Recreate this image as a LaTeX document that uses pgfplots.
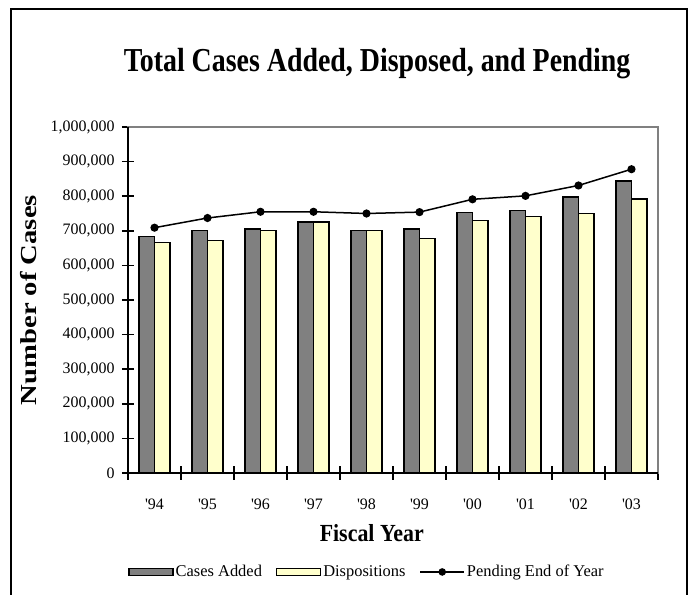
\documentclass[border=0pt]{standalone}
\usepackage{fontspec}
\setmainfont{Liberation Serif}
\usepackage{pgfplots}
\pgfplotsset{compat=1.18}
\usepackage{graphicx}

\definecolor{added}{HTML}{808080}
\definecolor{dispo}{HTML}{FFFFCC}

\newcommand{\q}{\textquotesingle}

\pgfplotsset{
  barlegend/.style={legend image code/.code={\draw[##1] (0bp,-3.5bp) rectangle (44bp,3.5bp);}},
  linelegend/.style={legend image code/.code={
    \draw[##1, mark=none] (0bp,0bp) -- (44bp,0bp);
    \fill[black] (22bp,0bp) circle (3bp);}},
}

\begin{document}
\begin{tikzpicture}
\useasboundingbox (0,0) rectangle (696bp,595bp);
% outer frame (open at the bottom)
\draw[line width=2bp] (11bp,0) -- (11bp,586bp) -- (687bp,586bp) -- (687bp,0);

\begin{axis}[
  at={(128bp,122bp)}, anchor=south west,
  scale only axis,
  width=530bp, height=346bp,
  xmin=-0.5, xmax=9.5,
  ymin=0, ymax=1000000,
  xtick={0,...,9},
  xticklabels={\q94,\q95,\q96,\q97,\q98,\q99,\q00,\q01,\q02,\q03},
  minor xtick={-0.5,0.5,...,9.5},
  ytick={0,100000,...,1000000},
  xtick pos=bottom, ytick pos=left,
  tick align=center,
  major tick length=12bp, minor tick length=13bp,
  major x tick style={draw=none},
  tick style={black, line width=1.5bp},
  scaled y ticks=false,
  /pgf/number format/.cd, fixed, 1000 sep={,}, assume math mode=true,
  /pgfplots/.cd,
  tick label style={font=\fontsize{16}{18}\selectfont},
  yticklabel style={anchor=east, xshift=-4bp},
  xticklabel style={anchor=base, yshift=-30bp},
  axis line style={draw=added, line width=1.5bp},
  title={\scalebox{1}[1.2]{Total Cases Added, Disposed, and Pending}},
  title style={font=\bfseries\fontsize{28}{32}\selectfont, at={(axis description cs:0.47,1.142)}, anchor=base},
  xlabel={\scalebox{1}[1.12]{Fiscal Year}},
  xlabel style={font=\bfseries\fontsize{22}{26}\selectfont, at={(axis description cs:0.46,-0.1986)}, anchor=base},
  ylabel={\scalebox{1.25}[1]{Number of Cases}},
  ylabel style={font=\bfseries\fontsize{23}{26}\selectfont, at={(axis description cs:-0.187,0.5)}, anchor=center},
  legend columns=3,
  legend style={draw=none, fill=none, font=\fontsize{16.5}{18}\selectfont,
    at={(axis description cs:0.451,-0.286)}, anchor=center,
    /tikz/every even column/.append style={column sep=12bp},
    inner sep=0pt},
  after end axis/.code={
    \draw[black, line width=2bp] (rel axis cs:0,1) -- (rel axis cs:0,0) -- (rel axis cs:1,0);
  },
]

% Cases Added
\addplot[ybar, bar width=15.5bp, bar shift=-7.75bp, fill=added, draw=black, line width=1.3bp, barlegend]
  coordinates {
  (0,683000) (1,700000) (2,705000) (3,725000) (4,700000)
  (5,705000) (6,752000) (7,758000) (8,798000) (9,844000)
};
\addlegendentry{Cases Added}

% Dispositions
\addplot[ybar, bar width=15.5bp, bar shift=7.75bp, fill=dispo, draw=black, line width=1.3bp, barlegend]
  coordinates {
  (0,666000) (1,671000) (2,700000) (3,725000) (4,700000)
  (5,678000) (6,729000) (7,741000) (8,751000) (9,792000)
};
\addlegendentry{Dispositions}

% Pending End of Year
\addplot[black, line width=1.5bp, mark=*, mark size=3.3bp, linelegend]
  coordinates {
  (0,709000) (1,737000) (2,755000) (3,755000) (4,750000)
  (5,754000) (6,791000) (7,801000) (8,831000) (9,878000)
};
\addlegendentry{Pending End of Year}

\end{axis}
\end{tikzpicture}
\end{document}
